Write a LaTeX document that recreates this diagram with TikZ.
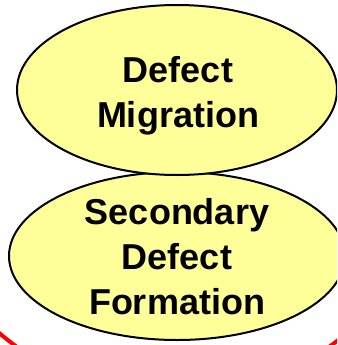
\documentclass[tikz,border=0pt]{standalone}
\usepackage{fontspec}
\setmainfont{Liberation Sans}
\usetikzlibrary{shapes.geometric}
\definecolor{blobfill}{RGB}{255,255,153}
\tikzset{
  blob/.style={ellipse, draw=black, line width=2pt, fill=blobfill, inner sep=0pt},
  lbl/.style={align=center, inner sep=0pt, font=\fontsize{36}{45}\selectfont\bfseries},
  ring/.style={draw=red, line width=4pt}
}
\begin{document}
\begin{tikzpicture}[x=1pt,y=-1pt]
\useasboundingbox (0,0) rectangle (337,345);
\clip (0,0) rectangle (337,345);
\draw[ring] (173,129) circle[radius=268];
\node[blob, minimum width=336pt, minimum height=168pt] (sec) at (177,256) {};
\node[blob, minimum width=320pt, minimum height=170pt] (mig) at (177,90) {};
\node[lbl] (migtxt) at (178,96) {Defect\\Migration};
\node[lbl] (sectxt) at (177,257) {Secondary\\Defect\\Formation};
\end{tikzpicture}
\end{document}
